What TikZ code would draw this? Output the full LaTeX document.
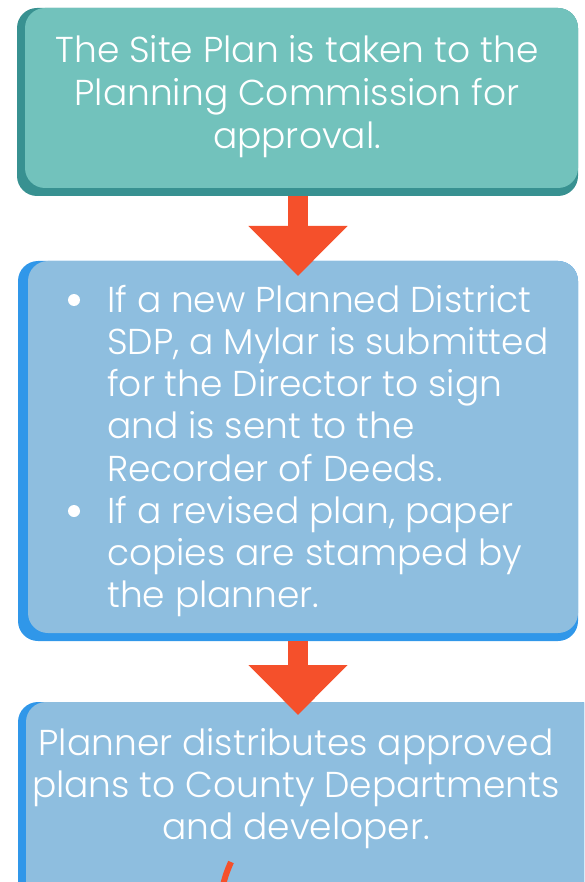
\documentclass[tikz,border=0pt]{standalone}
\usepackage{fontspec}
\setmainfont{Poppins}[UprightFont=* Light]
\usetikzlibrary{arrows.meta}
\definecolor{tealfront}{HTML}{72C2BC}
\definecolor{tealshadow}{HTML}{389191}
\definecolor{bluefront}{HTML}{8EBEDF}
\definecolor{blueshadow}{HTML}{3097E9}
\definecolor{arrowred}{HTML}{F5502B}
\tikzset{
  boxshape/.style={rounded corners=20pt},
  txt/.style={text=white, inner sep=0pt, anchor=base, font=\fontsize{36}{42}\selectfont},
  txtl/.style={txt, anchor=base west},
  bulletdot/.style={circle, fill=white, inner sep=0pt, minimum size=12pt},
  bigarrow/.style={draw=arrowred, line width=20pt, -{Triangle[width=96pt,length=50pt]}},
}
\begin{document}
\begin{tikzpicture}[x=1pt,y=-1pt]
\useasboundingbox (0,0) rectangle (584,882);
\clip (0,0) rectangle (584,882);
% box 1
\fill[tealshadow, boxshape] (17,8) rectangle (578,196);
\fill[tealfront, boxshape] (25,8) rectangle (578,188);
\coordinate (b1) at (298,196);
\node[txt] (t1a) at (297,63) {The Site Plan is taken to the};
\node[txt] (t1b) at (297,106) {Planning Commission for};
\node[txt] (t1c) at (297,149) {approval.};
% box 2
\fill[blueshadow, boxshape] (18,261) rectangle (578,641);
\fill[bluefront, boxshape] (28,261) rectangle (578,633);
\coordinate (b2top) at (298,276);
\coordinate (b2) at (298,641);
\node[bulletdot] (bu1) at (74,300) {};
\node[txtl] (t2a) at (107,312) {If a new Planned District};
\node[txtl] (t2b) at (107,354) {SDP, a Mylar is submitted};
\node[txtl] (t2c) at (107,396) {for the Director to sign};
\node[txtl] (t2d) at (107,438) {and is sent to the};
\node[txtl] (t2e) at (107,481) {Recorder of Deeds.};
\node[bulletdot] (bu2) at (74,511) {};
\node[txtl] (t2f) at (107,523) {If a revised plan, paper};
\node[txtl] (t2g) at (107,565) {copies are stamped by};
\node[txtl] (t2h) at (107,607) {the planner.};
% box 3
\fill[blueshadow, boxshape] (18,702) rectangle (600,930);
\fill[bluefront, boxshape] (26,702) rectangle (600,922);
\coordinate (b3top) at (298,715);
\node[txt] (t3a) at (296,755) {Planner distributes approved};
\node[txt] (t3b) at (296,797) {plans to County Departments};
\node[txt] (t3c) at (296,839) {and developer.};
% arrows
\draw[bigarrow] (b1) -- (b2top);
\draw[bigarrow] (b2) -- (b3top);
\coordinate (c1) at (231,862);
\coordinate (c2) at (222,890);
\draw[arrowred, line width=6pt] (c1) to[bend right=6] (c2);
\end{tikzpicture}
\end{document}
